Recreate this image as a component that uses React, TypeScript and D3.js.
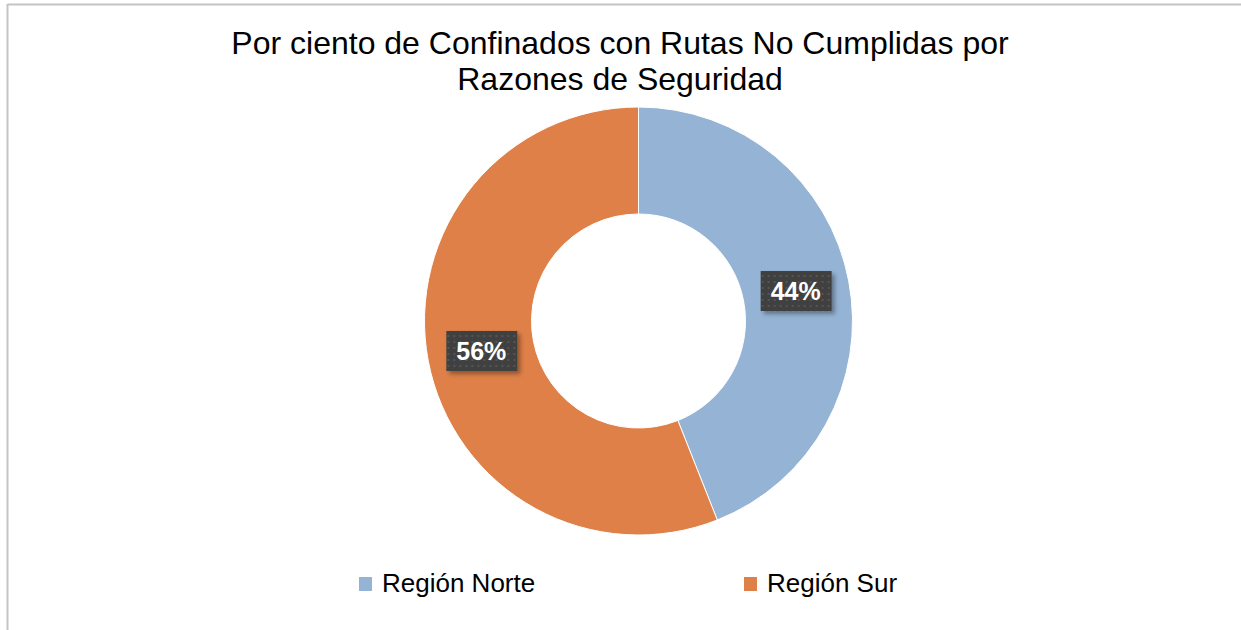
import React from "react";
import * as d3 from "d3";

const categories = ["Región Norte", "Región Sur"];
const values = [44, 56];
const colors = ["#95b3d4", "#de8048"];
const titleLines = ["Por ciento de Confinados con Rutas No Cumplidas por", "Razones de Seguridad"];

const W = 1241;
const H = 630;
const cx = 638.5;
const cy = 321;
const outerR = 214;
const innerR = 107;

export default function App() {
  const pie = d3.pie<number>().sort(null).value((d) => d);
  const arcs = pie(values);
  const arc = d3.arc<d3.PieArcDatum<number>>().innerRadius(innerR).outerRadius(outerR);
  const labelArc = d3.arc<d3.PieArcDatum<number>>().innerRadius(160).outerRadius(160);

  const legendX = d3.scaleOrdinal<string, number>().domain(categories).range([359, 744]);

  return (
    <svg width={W} height={H} style={{ position: "absolute", left: 0, top: 0, fontFamily: "Liberation Sans, Arial, sans-serif" }}>
      <defs>
        <pattern id="dots" width="6" height="6" patternUnits="userSpaceOnUse">
          <rect width="6" height="6" fill="#404040" />
          <rect x="2" y="2" width="2" height="2" fill="#555555" />
        </pattern>
        <filter id="shadow" x="-20%" y="-20%" width="150%" height="160%">
          <feDropShadow dx="3" dy="3" stdDeviation="2" floodColor="#000" floodOpacity="0.35" />
        </filter>
      </defs>
      <rect width={W} height={H} fill="#fff" />
      <line x1={7.5} y1={4.5} x2={W} y2={4.5} stroke="#c4c4c4" strokeWidth={2} />
      <line x1={7.5} y1={4} x2={7.5} y2={H} stroke="#c4c4c4" strokeWidth={2} />

      {titleLines.map((t, i) => (
        <text key={i} x={620} y={54 + i * 36} textAnchor="middle" fontSize={32} fill="#000">
          {t}
        </text>
      ))}

      <g transform={`translate(${cx},${cy})`}>
        {arcs.map((a, i) => (
          <path key={i} d={arc(a) || ""} fill={colors[i]} stroke="#fff" strokeWidth={1} />
        ))}
        {arcs.map((a, i) => {
          const [lx, ly] = labelArc.centroid(a);
          return (
            <g key={"l" + i} transform={`translate(${lx},${ly})`}>
              <rect x={-35} y={-20} width={71} height={40} fill="url(#dots)" filter="url(#shadow)" />
              <text y={9} textAnchor="middle" fontSize={25} fontWeight="bold" fill="#fff">
                {values[i]}%
              </text>
            </g>
          );
        })}
      </g>

      {categories.map((c, i) => (
        <g key={c} transform={`translate(${legendX(c)},0)`}>
          <rect x={0} y={577} width={13} height={14} fill={colors[i]} />
          <text x={23} y={592} fontSize={26} fill="#000">
            {c}
          </text>
        </g>
      ))}
    </svg>
  );
}
